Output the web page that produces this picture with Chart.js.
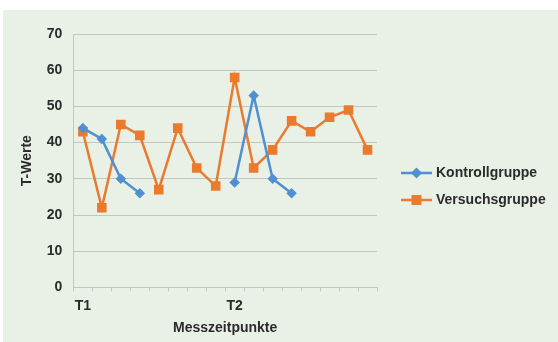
<!DOCTYPE html>
<html lang="de">
<head>
  <meta charset="UTF-8">
  <title>T-Werte Messzeitpunkte</title>
  <script src="https://cdn.jsdelivr.net/npm/chart.js"></script>
  <style>
    body {
      margin: 0;
      background: #ffffff;
      font-family: "Liberation Sans", Arial, sans-serif;
    }

    .chart-container {
      position: absolute;
      left: 3px;
      top: 10px;
      width: 555px;
      height: 332px;
      background: #e9f0e6;
    }
  </style>
</head>
<body>
  <div class="chart-container">
    <canvas id="chartCanvas"></canvas>
  </div>

  <script>
    // Messzeitpunkte (nur T1 und T2 beschriftet)
    const labels = ["T1", "", "", "", "", "", "", "", "T2", "", "", "", "", "", "", ""];
    const kontrollgruppe = [44, 41, 30, 26, null, null, null, null, 29, 53, 30, 26, null, null, null, null];
    const versuchsgruppe = [43, 22, 45, 42, 27, 44, 33, 28, 58, 33, 38, 46, 43, 47, 49, 38];
    const yTicks = [0, 10, 20, 30, 40, 50, 60, 70];

    const blue = "#4f8fd2";
    const orange = "#ea7a2d";
    const gridColor = "#c3c7c1";
    const textColor = "#2b2b2b";
    const boldFont = { family: "'Liberation Sans', Arial, sans-serif", size: 14, weight: "bold" };

    // Legende wie bei Excel: Linie mit Marker, rechts neben der Grafik
    const sideLegend = {
      id: "sideLegend",
      afterDraw(chart) {
        const ctx = chart.ctx;
        const area = chart.chartArea;
        const x0 = area.right + 24;
        let y = area.top + 139;
        chart.data.datasets.forEach(ds => {
          ctx.save();
          ctx.strokeStyle = ds.borderColor;
          ctx.lineWidth = ds.borderWidth;
          ctx.beginPath();
          ctx.moveTo(x0, y);
          ctx.lineTo(x0 + 31, y);
          ctx.stroke();
          Chart.helpers.drawPoint(ctx, {
            pointStyle: ds.pointStyle,
            radius: ds.pointRadius,
            rotation: 0,
            borderWidth: 1
          }, x0 + 15.5, y);
          ctx.fillStyle = ds.pointBackgroundColor;
          ctx.strokeStyle = ds.pointBorderColor;
          ctx.fill();
          ctx.stroke();
          ctx.fillStyle = textColor;
          ctx.font = "bold 14px 'Liberation Sans', Arial, sans-serif";
          ctx.textBaseline = "middle";
          ctx.fillText(ds.label, x0 + 35, y);
          ctx.restore();
          y += 27;
        });
      }
    };

    const ctx = document.getElementById("chartCanvas").getContext("2d");
    new Chart(ctx, {
      type: "line",
      data: {
        labels: labels,
        datasets: [
          {
            label: "Kontrollgruppe",
            data: kontrollgruppe,
            borderColor: blue,
            backgroundColor: blue,
            pointBackgroundColor: blue,
            pointBorderColor: blue,
            borderWidth: 2.5,
            pointStyle: "rectRot",
            pointRadius: 3.5,
            tension: 0,
            spanGaps: false
          },
          {
            label: "Versuchsgruppe",
            data: versuchsgruppe,
            borderColor: orange,
            backgroundColor: orange,
            pointBackgroundColor: orange,
            pointBorderColor: orange,
            borderWidth: 2.5,
            pointStyle: "rect",
            pointRadius: 5,
            tension: 0
          }
        ]
      },
      options: {
        responsive: true,
        maintainAspectRatio: false,
        animation: false,
        layout: {
          padding: { left: 10, right: 181, top: 24, bottom: 4 }
        },
        plugins: {
          legend: { display: false },
          tooltip: { enabled: false }
        },
        scales: {
          x: {
            offset: true,
            grid: {
              offset: true,
              drawOnChartArea: false,
              drawTicks: true,
              tickLength: 4,
              color: gridColor
            },
            border: { display: true, color: gridColor },
            ticks: {
              autoSkip: false,
              maxRotation: 0,
              padding: 6,
              color: textColor,
              font: boldFont
            },
            title: {
              display: true,
              text: "Messzeitpunkte",
              color: textColor,
              font: boldFont,
              padding: { top: 0, bottom: 1 }
            }
          },
          y: {
            min: 0,
            max: 70,
            afterBuildTicks(axis) {
              axis.ticks = yTicks.map(v => ({ value: v }));
            },
            grid: {
              color: gridColor,
              drawTicks: false
            },
            border: { display: true, color: gridColor },
            ticks: {
              padding: 11,
              color: textColor,
              font: boldFont
            },
            title: {
              display: true,
              text: "T-Werte",
              color: textColor,
              font: boldFont,
              padding: { top: 6, bottom: 0 }
            }
          }
        }
      },
      plugins: [sideLegend]
    });
  </script>
</body>
</html>
